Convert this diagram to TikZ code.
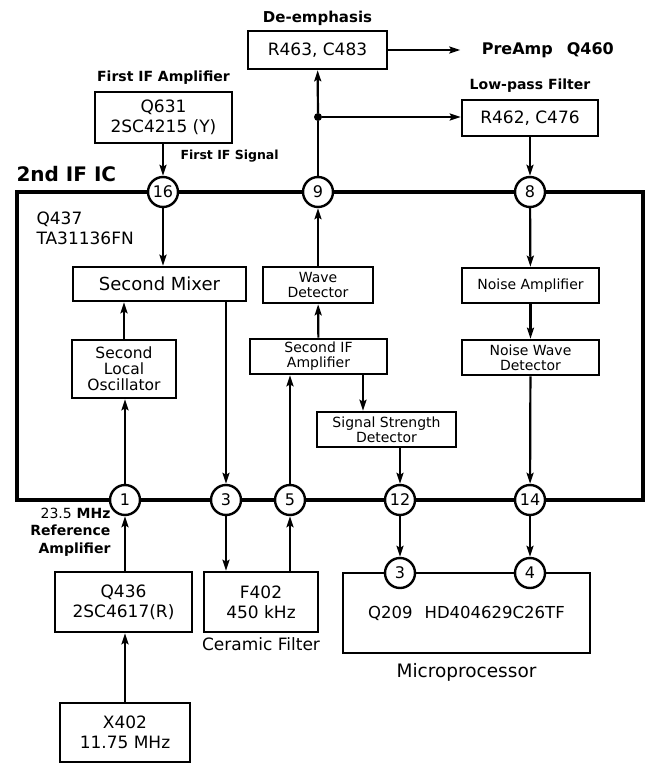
\documentclass[tikz,border=0pt]{standalone}
\usepackage{fontspec}
\setmainfont{DejaVu Sans}
\usetikzlibrary{positioning, arrows.meta}

\begin{document}
\begin{tikzpicture}[
            x=1pt, y=-1pt,
            block/.style={
                rectangle,
                draw,
                line width=2.6pt,
                align=center,
                inner sep=1pt
            },
            icbox/.style={
                rectangle,
                draw,
                line width=3.2pt,
                minimum width=626pt,
                minimum height=308pt
            },
            bigtext/.style={font=\fontsize{17}{20}\selectfont},
            smalltext/.style={font=\fontsize{14}{15}\selectfont},
            heading/.style={font=\bfseries\fontsize{14}{16}\selectfont},
            pin/.style={
                circle,
                draw,
                fill=white,
                line width=2.4pt,
                minimum size=30pt,
                inner sep=0pt,
                font=\fontsize{16}{16}\selectfont
            },
            arrow/.style={
                -{Stealth[length=11pt, width=7pt, inset=2pt]},
                line width=2.2pt
            },
            wire/.style={line width=2.2pt}
        ]
            \useasboundingbox (0,0) rectangle (645,765);

            % the IC and its pins
            \node [icbox] (ic) at (330,346) {};
            \node [anchor=west, font=\bfseries\fontsize{20}{22}\selectfont] (iclbl) at (13,174) {2nd IF IC};
            \node [anchor=north west, align=left, bigtext] (icname) at (33,208) {Q437\\TA31136FN};

            \node [pin] (p16) at (163,192) {16};
            \node [pin] (p9) at (318,192) {9};
            \node [pin] (p8) at (530,192) {8};
            \node [pin] (p1) at (125,500) {1};
            \node [pin] (p3) at (226,500) {3};
            \node [pin] (p5) at (290,500) {5};
            \node [pin] (p12) at (400,500) {12};
            \node [pin] (p14) at (530,500) {14};

            % outside blocks
            \node [block, bigtext, minimum width=139pt, minimum height=38pt] (deemph) at (317.5,50) {R463, C483};
            \node [block, bigtext, minimum width=136pt, minimum height=36pt] (lpf) at (530,118) {R462, C476};
            \node [block, bigtext, minimum width=137pt, minimum height=51pt] (fif) at (163.5,117.5) {Q631\\2SC4215 (Y)};
            \node [block, bigtext, minimum width=137pt, minimum height=60pt] (q436) at (123.5,602) {Q436\\2SC4617(R)};
            \node [block, bigtext, minimum width=130pt, minimum height=59pt] (x402) at (125,732.5) {X402\\11.75 MHz};
            \node [block, bigtext, minimum width=114pt, minimum height=60pt] (f402) at (261,602) {F402\\450 kHz};
            \node [block, font=\fontsize{16.5}{18}\selectfont, minimum width=247pt, minimum height=80pt] (mpu) at (466.5,613) {Q209\hspace{12pt}HD404629C26TF};
            \node [pin] (m3) at (400,573) {3};
            \node [pin] (m4) at (530,573) {4};

            % blocks inside the IC
            \node [block, font=\fontsize{18}{19}\selectfont, minimum width=173pt, minimum height=34pt] (mix) at (159.5,284) {Second Mixer};
            \node [block, font=\fontsize{15.5}{16}\selectfont, minimum width=104pt, minimum height=58pt] (osc) at (124,369) {Second\\Local\\Oscillator};
            \node [block, smalltext, minimum width=110pt, minimum height=36pt] (wave) at (318,285) {Wave\\Detector};
            \node [block, smalltext, minimum width=137pt, minimum height=35pt] (sif) at (318.5,356.5) {Second IF\\Amplifier};
            \node [block, smalltext, minimum width=139pt, minimum height=35pt] (ssd) at (386.5,429.5) {Signal Strength\\Detector};
            \node [block, smalltext, minimum width=137pt, minimum height=35pt] (namp) at (530.5,285.5) {Noise Amplifier};
            \node [block, smalltext, minimum width=137pt, minimum height=35pt] (nwd) at (530.5,357.5) {Noise Wave\\Detector};

            % labels
            \node [heading, font=\bfseries\fontsize{15}{16}\selectfont, above=1pt of deemph] (deemphlbl) {De-emphasis};
            \node [heading, above=3pt of fif] (fiflbl) {First IF Amplifier};
            \node [heading, above=3pt of lpf] (lpflbl) {Low-pass Filter};
            \node [font=\bfseries\fontsize{16}{18}\selectfont, right=90pt of deemph] (preamp) {PreAmp\hspace{14pt}Q460};
            \node [anchor=west, font=\bfseries\fontsize{12.5}{14}\selectfont] (siglbl) at (177,156) {First IF Signal};
            \node [anchor=east, align=right, font=\bfseries\fontsize{14}{17.5}\selectfont] (reflbl) at (114,532) {{\mdseries 23.5} MHz\\Reference\\Amplifier};
            \node [bigtext, below=1pt of f402] (ceramic) {Ceramic Filter};
            \node [font=\fontsize{18.5}{20}\selectfont, below=6pt of mpu] (mpulbl) {Microprocessor};

            \node [circle, fill, inner sep=0pt, minimum size=8pt] (dot) at (318,117) {};

            % connectors
            \draw [wire] (p9) -- (dot);
            \draw [arrow] (dot) -- (deemph);
            \draw [arrow] (dot) -- (dot -| lpf.west);
            \draw [arrow] (deemph) -- (preamp) [shorten >=18pt];
            \draw [arrow] (lpf.south -| p8) -- (p8);
            \draw [arrow] (fif.south -| p16) -- (p16);

            \draw [arrow] (p16) -- (p16 |- mix.north);
            \draw [arrow] (osc) -- (osc |- mix.south);
            \draw [arrow] (p1) -- (p1 |- osc.south);
            \draw [arrow] (mix.south -| p3) -- (p3);
            \draw [arrow] (p5) -- (p5 |- sif.south);
            \draw [arrow] (sif) -- (wave);
            \draw [arrow] (wave) -- (p9);
            \draw [arrow] ([xshift=44.5pt]sif.south) -- ([xshift=44.5pt]sif.south |- ssd.north);
            \draw [arrow] (ssd.south -| p12) -- (p12);
            \draw [arrow] (p8) -- (namp);
            \draw [arrow] (namp) -- (nwd);
            \draw [arrow] (nwd) -- (p14);

            \draw [arrow] (q436.north -| p1) -- (p1);
            \draw [arrow] (x402) -- (x402 |- q436.south);
            \draw [arrow] (p3) -- (p3 |- f402.north);
            \draw [arrow] (f402.north -| p5) -- (p5);
            \draw [arrow] (p12) -- (m3);
            \draw [arrow] (p14) -- (m4);

        \end{tikzpicture}
\end{document}
